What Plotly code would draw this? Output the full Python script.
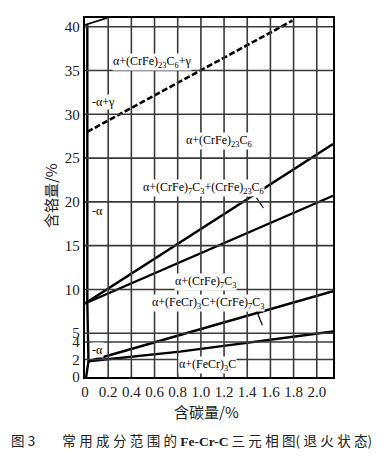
import plotly.graph_objects as go

# ---- data ----
x_ticks = [0, 0.2, 0.4, 0.6, 0.8, 1.0, 1.2, 1.4, 1.6, 1.8, 2.0]
x_ticktext = ["0", "0.2", "0.4", "0.6", "0.8", "1.0", "1.2", "1.4", "1.6", "1.8", "2.0"]
y_ticks = [0, 2, 4, 5, 10, 15, 20, 25, 30, 35, 40]
y_ticktext = ["0", "2", "4", "5", "10", "15", "20", "25", "30", "35", "40"]

# gamma boundary (dashed)
gamma_c = [0.02, 1.79]
gamma_cr = [28.0, 40.7]
# top-left gamma corner
corner_c = [0.0, 0.19]
corner_cr = [40.2, 41.0]
# alpha solvus near C = 0
alpha_c = [0.01, 0.03, 0.02, 0.02]
alpha_cr = [0.0, 1.8, 8.4, 40.2]
# M23C6 / M7C3 boundaries
upper1_c = [0.0, 0.82, 2.14]
upper1_cr = [8.4, 15.4, 26.6]
upper2_c = [0.0, 0.82, 2.14]
upper2_cr = [8.4, 13.1, 20.7]
# M7C3 / M3C boundaries
lower1_c = [0.03, 0.82, 2.14]
lower1_cr = [1.8, 4.8, 9.8]
lower2_c = [0.03, 0.82, 2.14]
lower2_cr = [1.8, 2.9, 5.2]
# leader lines
leader1_c = [1.48, 1.54]
leader1_cr = [20.45, 19.3]
leader2_c = [1.48, 1.53]
leader2_cr = [7.6, 5.9]

labels = [
    ("α+(CrFe)<sub>23</sub>C<sub>6</sub>+γ", 0.58, 36.0, "center"),
    ("-α+γ", 0.055, 31.4, "left"),
    ("α+(CrFe)<sub>23</sub>C<sub>6</sub>", 1.16, 26.9, "center"),
    ("α+(CrFe)<sub>7</sub>C<sub>3</sub>+(CrFe)<sub>23</sub>C<sub>6</sub>", 1.02, 21.6, "center"),
    ("-α", 0.055, 19.0, "left"),
    ("α+(CrFe)<sub>7</sub>C<sub>3</sub>", 1.04, 10.8, "center"),
    ("α+(FeCr)<sub>3</sub>C+(CrFe)<sub>7</sub>C<sub>3</sub>", 1.06, 8.4, "center"),
    ("-α", 0.055, 3.1, "left"),
    ("α+(FeCr)<sub>3</sub>C", 1.06, 1.4, "center"),
]

SERIF = "Liberation Serif, Times New Roman, DejaVu Serif, serif"
CJK = "Noto Sans CJK SC, sans-serif"
SP = "\u2005"

def spaced(s):
    return SP.join(list(s))

fig = go.Figure()

# grid lines derived from the tick values
X_MAX, Y_MAX = 2.14, 41
for xv in x_ticks[1:]:
    fig.add_shape(type="line", xref="x", yref="y", x0=xv, x1=xv, y0=0, y1=Y_MAX,
                  line=dict(color="#3a3a3a", width=1.6), layer="above")
for yv in y_ticks[1:]:
    fig.add_shape(type="line", xref="x", yref="y", x0=0, x1=X_MAX, y0=yv, y1=yv,
                  line=dict(color="#3a3a3a", width=1.6), layer="above")

def add_line(xs, ys, dash="solid", width=2.4):
    fig.add_trace(go.Scatter(x=xs, y=ys, mode="lines",
                             line=dict(color="black", width=width, dash=dash),
                             showlegend=False, hoverinfo="skip"))

add_line(gamma_c, gamma_cr, dash="6px,2.5px", width=2.6)
add_line(corner_c, corner_cr, width=1.8)
add_line(alpha_c, alpha_cr, width=2.4)
add_line(upper1_c, upper1_cr)
add_line(upper2_c, upper2_cr)
add_line(lower1_c, lower1_cr)
add_line(lower2_c, lower2_cr)
add_line(leader1_c, leader1_cr, width=1.2)
add_line(leader2_c, leader2_cr, width=1.2)

for text, cx, cy, anchor in labels:
    fig.add_annotation(x=cx, y=cy, text=text, showarrow=False, xanchor=anchor,
                       yanchor="middle", bgcolor="white", borderpad=0,
                       font=dict(family=SERIF, size=12, color="black"))

# axis titles and caption
fig.add_annotation(xref="paper", yref="paper", x=0.488, y=-0.095, text="含碳量/%",
                   showarrow=False, xanchor="center", yanchor="middle",
                   font=dict(family=CJK, size=15, color="#222"))
fig.add_annotation(xref="paper", yref="paper", x=-0.141, y=0.504, text="含铬量/%",
                   showarrow=False, xanchor="center", yanchor="middle", textangle=-90,
                   font=dict(family=CJK, size=15, color="#222"))
caption = (spaced("图") + SP + "3" + "\u2003\u2003" + spaced("常用成分范围的") +
           " <span style=\"font-family:'Liberation Serif',serif\"><b>Fe-Cr-C</b></span> " +
           spaced("三元相图") + "(" + SP + spaced("退火状态") + ")")
fig.add_annotation(xref="paper", yref="paper", x=0.431, y=-0.1745, text=caption,
                   showarrow=False, xanchor="center", yanchor="middle",
                   font=dict(family=CJK, size=13.5, color="#222"))

fig.update_xaxes(range=[0, X_MAX], tickvals=x_ticks, ticktext=x_ticktext,
                 showgrid=False,
                 showline=True, linecolor="black", linewidth=2.4, mirror=True,
                 zeroline=False, ticks="",
                 tickfont=dict(family=SERIF, size=15, color="#222"))
fig.update_yaxes(range=[0, Y_MAX], tickvals=y_ticks, ticktext=y_ticktext,
                 showgrid=False,
                 showline=True, linecolor="black", linewidth=2.4, mirror=True,
                 zeroline=False, ticks="",
                 tickfont=dict(family=SERIF, size=15, color="#222"))

# page body has an 8px margin: figure shrunk so the plot lands where the reference has it
fig.update_layout(width=377, height=449,
                  margin=dict(l=77, r=52, t=8, b=80),
                  paper_bgcolor="white", plot_bgcolor="white",
                  showlegend=False)

fig.write_html("out.html")
